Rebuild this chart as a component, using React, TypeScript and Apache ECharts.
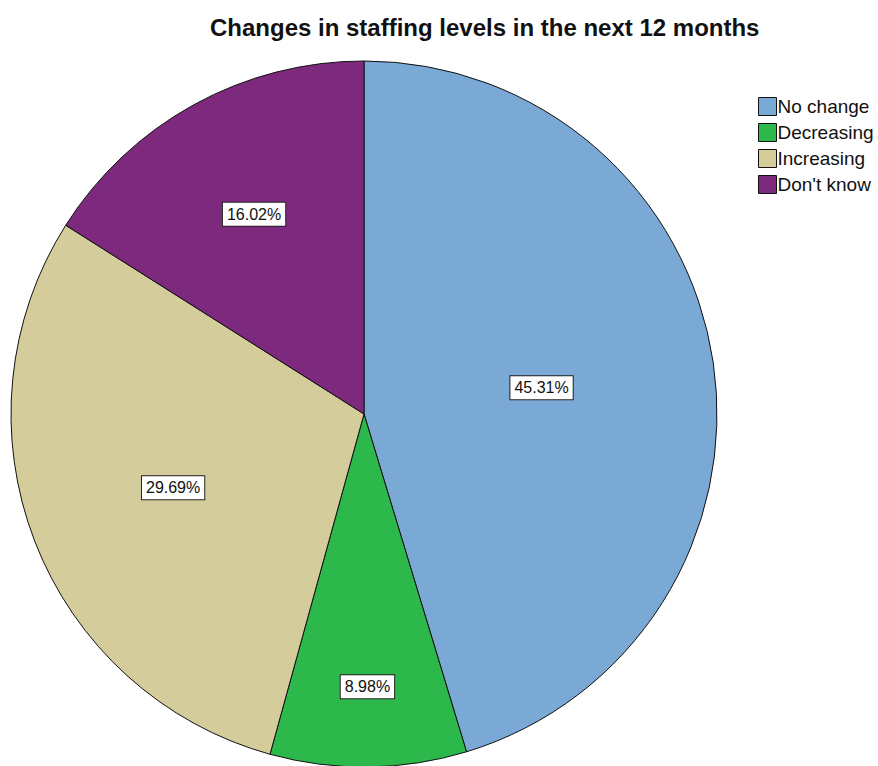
import React, { useEffect, useRef } from "react";
import * as echarts from "echarts";

const categories = ["No change", "Decreasing", "Increasing", "Don't know"];
const values = [45.31, 8.98, 29.69, 16.02];
const colors = ["#7BA9D5", "#2DB84B", "#D4CD9B", "#7D297D"];
// label placement as a fraction of the radius (SPSS style placement)
const labelRadiusFraction = [0.5, 0.76, 0.57, 0.635];

const CX = 364;
const CY = 414;
const R = 353;

export default function App() {
  const ref = useRef<HTMLDivElement>(null);
  useEffect(() => {
    if (!ref.current) return;
    const chart = echarts.init(ref.current, null, { renderer: "svg" });
    const fontFamily = "Liberation Sans, Arial, sans-serif";
    chart.setOption({
      animation: false,
      backgroundColor: "#ffffff",
      title: {
        text: "Changes in staffing levels in the next 12 months",
        left: 205,
        top: 10,
        textStyle: { fontFamily, fontSize: 24, fontWeight: "bold", color: "#111" },
      },
      legend: {
        orient: "vertical",
        left: 753,
        top: 92,
        itemWidth: 18,
        itemHeight: 18,
        itemGap: 7,
        icon: "rect",
        textStyle: { fontFamily, fontSize: 19, color: "#111", padding: [0, 0, 0, -4] },
        itemStyle: { borderColor: "#111", borderWidth: 1 },
        data: categories,
      },
      series: [
        {
          type: "pie",
          center: [CX, CY],
          radius: [0, R],
          startAngle: 90,
          clockwise: true,
          avoidLabelOverlap: false,
          itemStyle: { borderColor: "#111", borderWidth: 1 },
          label: {
            show: true,
            position: "inner",
            formatter: (p: any) => p.value.toFixed(2) + "%",
            fontFamily,
            fontSize: 16,
            color: "#111",
            backgroundColor: "#ffffff",
            borderColor: "#222",
            borderWidth: 1,
            padding: [4, 4, 3, 4],
          },
          labelLine: { show: false },
          labelLayout: (params: any) => {
            const rect = params.labelRect;
            const lx = rect.x + rect.width / 2;
            const ly = rect.y + rect.height / 2;
            const f = labelRadiusFraction[params.dataIndex] / 0.5;
            return {
              x: CX + (lx - CX) * f,
              y: CY + (ly - CY) * f,
              align: "center",
              verticalAlign: "middle",
            };
          },
          data: categories.map((name, i) => ({
            name,
            value: values[i],
            itemStyle: { color: colors[i] },
          })),
        },
      ],
    });
    return () => chart.dispose();
  }, []);
  return (
    <div
      ref={ref}
      style={{ position: "fixed", left: 0, top: 0, width: 878, height: 766 }}
    />
  );
}
